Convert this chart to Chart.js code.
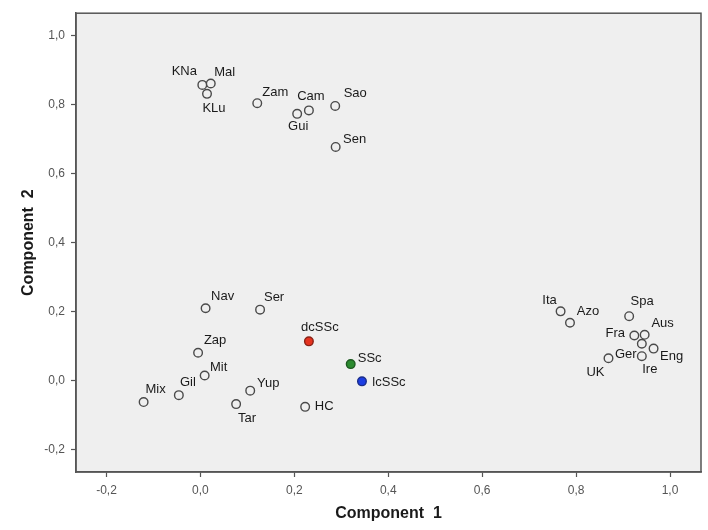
<!DOCTYPE html>
<html>
<head>
<meta charset="utf-8">
<script src="https://cdn.jsdelivr.net/npm/chart.js@4.4.0/dist/chart.umd.min.js"></script>
<style>
  html, body { margin: 0; padding: 0; background: #fff; }
  #wrap { width: 708px; height: 530px; }
</style>
</head>
<body>
<div id="wrap"><canvas id="chart" width="708" height="530"></canvas></div>
<script>
// Component scores
const names = ["KNa", "Mal", "KLu", "Zam", "Cam", "Gui", "Sao", "Sen",
  "Nav", "Ser", "Zap", "Mit", "Mix", "Gil", "Yup", "Tar", "HC",
  "dcSSc", "SSc", "lcSSc",
  "Ita", "Azo", "Spa", "Fra", "Aus", "Ger", "Eng", "Ire", "UK"]
const comp1 = [0.004, 0.022, 0.014, 0.121, 0.231, 0.206, 0.287, 0.288,
  0.011, 0.127, -0.005, 0.009, -0.121, -0.046, 0.106, 0.076, 0.223,
  0.231, 0.320, 0.344,
  0.767, 0.787, 0.913, 0.924, 0.946, 0.940, 0.965, 0.940, 0.869]
const comp2 = [0.857, 0.861, 0.831, 0.804, 0.783, 0.773, 0.796, 0.677,
  0.209, 0.205, 0.080, 0.014, -0.063, -0.043, -0.030, -0.069, -0.077,
  0.113, 0.047, -0.003,
  0.200, 0.167, 0.186, 0.130, 0.132, 0.106, 0.092, 0.070, 0.064]
// marker group for each point
const groups = ["pop", "pop", "pop", "pop", "pop", "pop", "pop", "pop",
  "pop", "pop", "pop", "pop", "pop", "pop", "pop", "pop", "pop",
  "dc", "all", "lc",
  "pop", "pop", "pop", "pop", "pop", "pop", "pop", "pop", "pop"]

const xTicks = [-0.2, 0.0, 0.2, 0.4, 0.6, 0.8, 1.0]
const yTicks = [-0.2, 0.0, 0.2, 0.4, 0.6, 0.8, 1.0]

// styling
const groupFill = { pop: "#efefef", dc: "#e5331f", all: "#2b8a2f", lc: "#1c3de2" }
const groupBorder = { pop: "#4a4a4a", dc: "#8a2216", all: "#1d5a20", lc: "#1a2d8a" }
// label offsets (px) of text centre from the marker
const labelOffsets = {
  KNa: [-18, -13], Mal: [14, -11], KLu: [7, 15], Zam: [18, -11], Cam: [2, -14],
  Gui: [1, 13], Sao: [20, -13], Sen: [19, -8], Nav: [17, -12], Ser: [14, -12],
  Zap: [17, -12], Mit: [14, -8], Mix: [12, -13], Gil: [9, -13], Yup: [18, -7],
  Tar: [11, 14], HC: [19, 0], dcSSc: [11, -14], SSc: [19, -6], lcSSc: [27, 1],
  Ita: [-11, -11], Azo: [18, -11], Spa: [13, -15], Fra: [-19, -2], Aus: [18, -11],
  Ger: [-16, 11], Eng: [18, 8], Ire: [8, 13], UK: [-13, 14]
}

const fmt = (v) => v.toFixed(1).replace(".", ",")
const FONT = "'Liberation Sans', Arial, Helvetica, sans-serif"

const plotFrame = {
  id: "plotFrame",
  beforeDraw(chart) {
    const { ctx, chartArea: a } = chart
    ctx.save()
    ctx.fillStyle = "#efefef"
    ctx.fillRect(a.left, a.top, a.right - a.left, a.bottom - a.top)
    ctx.restore()
  },
  afterDraw(chart) {
    const { ctx, chartArea: a } = chart
    ctx.save()
    ctx.strokeStyle = "#555"
    ctx.lineWidth = 1.5
    ctx.strokeRect(a.left, a.top, a.right - a.left, a.bottom - a.top)
    ctx.restore()
  }
}

const pointLabels = {
  id: "pointLabels",
  afterDatasetsDraw(chart) {
    const { ctx } = chart
    const meta = chart.getDatasetMeta(0)
    ctx.save()
    ctx.font = "13px " + FONT
    ctx.fillStyle = "#1a1a1a"
    ctx.textAlign = "center"
    ctx.textBaseline = "middle"
    meta.data.forEach((pt, i) => {
      const off = labelOffsets[names[i]] || [12, -10]
      ctx.fillText(names[i], pt.x + off[0], pt.y + off[1])
    })
    ctx.restore()
  }
}

function axis(ticks, min, max, title, isX) {
  return {
    type: "linear",
    min: min,
    max: max,
    afterBuildTicks: (scale) => { scale.ticks = ticks.map((v) => ({ value: v })) },
    afterFit: (scale) => {
      if (isX) scale.height = 58
      else scale.width = 76
    },
    ticks: {
      callback: (v) => fmt(v),
      color: "#555",
      font: { family: FONT, size: 12 },
      padding: isX ? 6 : 6,
    },
    grid: {
      drawOnChartArea: false,
      drawTicks: true,
      tickLength: 5,
      tickColor: "#555",
      tickWidth: 1.2,
    },
    border: { display: true, color: "#555", width: 1.5 },
    title: {
      display: true,
      text: title,
      color: "#1a1a1a",
      font: { family: FONT, size: 16, weight: "bold" },
      padding: isX ? { top: 0, bottom: 7 } : { top: 19, bottom: 0 },
    },
  }
}

new Chart(document.getElementById("chart").getContext("2d"), {
  type: "scatter",
  data: {
    datasets: [{
      label: "scores",
      data: names.map((n, i) => ({ x: comp1[i], y: comp2[i] })),
      pointRadius: 4.3,
      pointHoverRadius: 4.3,
      pointBorderWidth: 1.4,
      pointBackgroundColor: groups.map((g) => groupFill[g]),
      pointBorderColor: groups.map((g) => groupBorder[g]),
    }],
  },
  options: {
    responsive: false,
    animation: false,
    devicePixelRatio: 1,
    layout: { padding: { top: 12, right: 7, left: 0, bottom: 0 } },
    plugins: { legend: { display: false }, tooltip: { enabled: false } },
    scales: {
      x: axis(xTicks, -0.265, 1.066, "Component  1", true),
      y: axis(yTicks, -0.266, 1.065, "Component  2", false),
    },
  },
  plugins: [plotFrame, pointLabels],
})
</script>
</body>
</html>
